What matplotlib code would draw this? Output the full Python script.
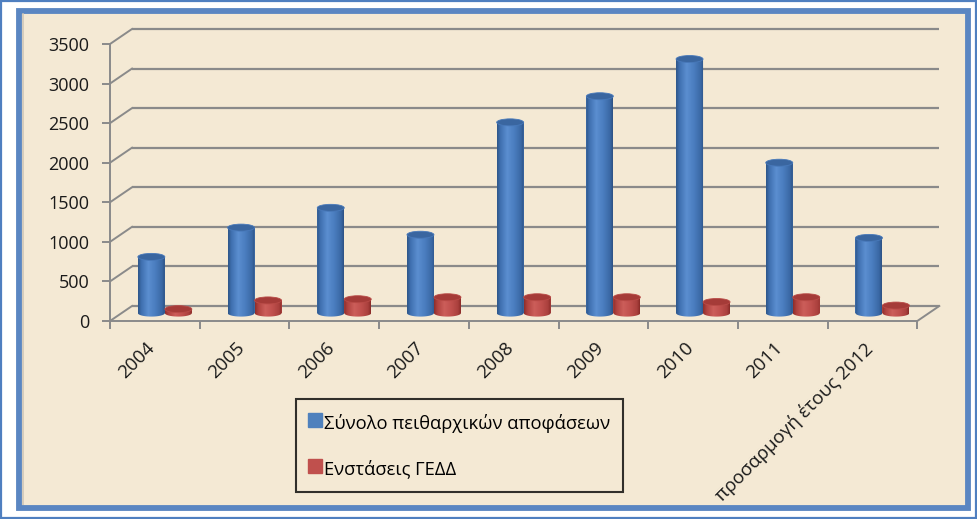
import matplotlib
matplotlib.use("Agg")
import matplotlib.pyplot as plt
import numpy as np
from matplotlib.patches import Rectangle, Ellipse, PathPatch
from matplotlib.path import Path
from matplotlib.lines import Line2D
from matplotlib.colors import LinearSegmentedColormap

plt.rcParams['font.family'] = ['Open Sans', 'DejaVu Sans']

# δεδομένα
categories = ['2004', '2005', '2006', '2007', '2008', '2009', '2010', '2011',
              'προσαρμογή έτους 2012']
decisions = [710, 1080, 1330, 990, 2410, 2740, 3210, 1900, 950]
objections = [50, 160, 175, 200, 200, 200, 140, 200, 95]
label_decisions = 'Σύνολο πειθαρχικών αποφάσεων'
label_objections = 'Ενστάσεις ΓΕΔΔ'
y_ticks = [0, 500, 1000, 1500, 2000, 2500, 3000, 3500]

W, H = 977, 519
fig = plt.figure(figsize=(W / 100, H / 100), dpi=100)
fig.patch.set_facecolor('white')

# πλαίσια
fig.patches.append(Rectangle((1 / W, 1 / H), 975 / W, 517 / H, transform=fig.transFigure,
                             fill=False, edgecolor='#4F7FC0', linewidth=1.6, zorder=-10))
fig.patches.append(Rectangle((18.5 / W, 11 / H), 949.5 / W, 497.5 / H, transform=fig.transFigure,
                             facecolor='#F4E9D4', edgecolor='#5A86C2', linewidth=4.2, zorder=-9))
fig.patches.append(Rectangle((22 / W, 14 / H), 1.5 / W, 492 / H, transform=fig.transFigure,
                             facecolor='#C9C0B2', edgecolor='none', alpha=0.7, zorder=-8))

# άξονες (ψευδο-3Δ)
ax = fig.add_axes([110 / W, 1 - 321 / H, 830 / W, 292 / H])
ax.set_facecolor('none')
px_x = 89.7          # pixels ανά κατηγορία
px_y = 277 / 3500    # pixels ανά μονάδα
dx = 22 / px_x
dy = 15 / px_y
n = len(categories)

grid_c = '#8A8A8A'
for v in y_ticks:
    ax.plot([-0.5 + dx, n - 0.5 + dx], [v + dy, v + dy], color=grid_c, lw=1.6, zorder=1,
            solid_capstyle='butt', clip_on=False)
    ax.plot([-0.5, -0.5 + dx], [v, v + dy], color=grid_c, lw=1.4, zorder=1, clip_on=False)
ax.plot([n - 0.5, n - 0.5 + dx], [0, dy], color=grid_c, lw=1.4, zorder=1, clip_on=False)

for s in ['top', 'right']:
    ax.spines[s].set_visible(False)
ax.spines['left'].set_bounds(0, 3500)
ax.spines['bottom'].set_bounds(-0.5, n - 0.5)
for s in ['left', 'bottom']:
    ax.spines[s].set_color(grid_c)
    ax.spines[s].set_linewidth(1.4)

# κύλινδροι
bw = 27 / px_x
base = 100
eh = 7 / px_y
shift = 10 / px_x
xb = np.arange(n) + shift - bw / 2
xr = np.arange(n) + shift + bw / 2

cmap_b = LinearSegmentedColormap.from_list(
    'b', [(0, '#2E5689'), (0.12, '#3F70B0'), (0.38, '#5B8ED0'), (0.65, '#4A7DBF'), (0.9, '#3A68A4'), (1, '#2D5285')])
cmap_r = LinearSegmentedColormap.from_list(
    'r', [(0, '#8E2E2B'), (0.12, '#B0423F'), (0.38, '#CC5E5A'), (0.65, '#C0504D'), (0.9, '#AA403D'), (1, '#8A2B28')])
grad = np.linspace(0, 1, 64).reshape(1, -1)
t = np.linspace(np.pi, 2 * np.pi, 30)


def cylinders(xs, vals, cmap, top_c):
    bars = ax.bar(xs, vals, width=bw, bottom=base, color=cmap(0.65), zorder=3, linewidth=0)
    for x, v in zip(xs, vals):
        # περίγραμμα κυλίνδρου: σώμα + κάτω μισό έλλειψης
        bx = x + bw / 2 * np.cos(t)
        by = base + eh / 2 * np.sin(t)
        verts = np.column_stack([np.r_[bx, x + bw / 2, x - bw / 2, bx[0]],
                                 np.r_[by, base + v, base + v, by[0]]])
        sil = PathPatch(Path(verts, closed=True), facecolor='none', edgecolor='none',
                        transform=ax.transData)
        ax.add_patch(sil)
        im = ax.imshow(grad, cmap=cmap, aspect='auto', zorder=3.1, interpolation='bilinear',
                       extent=(x - bw / 2, x + bw / 2, base - eh, base + v + eh))
        im.set_clip_path(sil)
        ax.add_patch(Ellipse((x, base + v), bw, eh, facecolor=top_c, edgecolor=cmap(0.2),
                             linewidth=0.6, zorder=3.2))
    return bars


cylinders(xb, decisions, cmap_b, '#3A66A0')
cylinders(xr, objections, cmap_r, '#A53B38')

ax.set_xlim(-0.5, -0.5 + 830 / px_x)
ax.set_ylim(0, 292 / px_y)

ax.set_yticks(y_ticks)
ax.set_yticklabels([str(v) for v in y_ticks], fontsize=13, color='#1A1A1A')
ax.tick_params(axis='y', length=6, width=1.4, color=grid_c, pad=9)

ax.set_xticks(np.arange(n) - 0.1)
ax.set_xticklabels(categories, rotation=45, ha='right', rotation_mode='anchor',
                   fontsize=13.5, color='#1A1A1A')
ax.tick_params(axis='x', which='major', length=0, pad=13)
ax.set_xticks(np.arange(n + 1) - 0.5, minor=True)
ax.tick_params(axis='x', which='minor', length=6, width=1.4, color=grid_c)

handles = [Line2D([], [], marker='s', markersize=9.4, linestyle='none', color='#4F81BD'),
           Line2D([], [], marker='s', markersize=9.4, linestyle='none', color='#C0504D')]
leg = fig.legend(handles, [label_decisions, label_objections], loc='upper left',
                 bbox_to_anchor=(296 / W, 1 - 399 / H), borderaxespad=0,
                 fontsize=13.2, handlelength=0.72, handleheight=1.44, handletextpad=0.1,
                 labelspacing=1.29, borderpad=0.7, fancybox=False, facecolor='none',
                 edgecolor='black')
leg.get_frame().set_linewidth(1.5)

fig.savefig('out.png', dpi=100)
